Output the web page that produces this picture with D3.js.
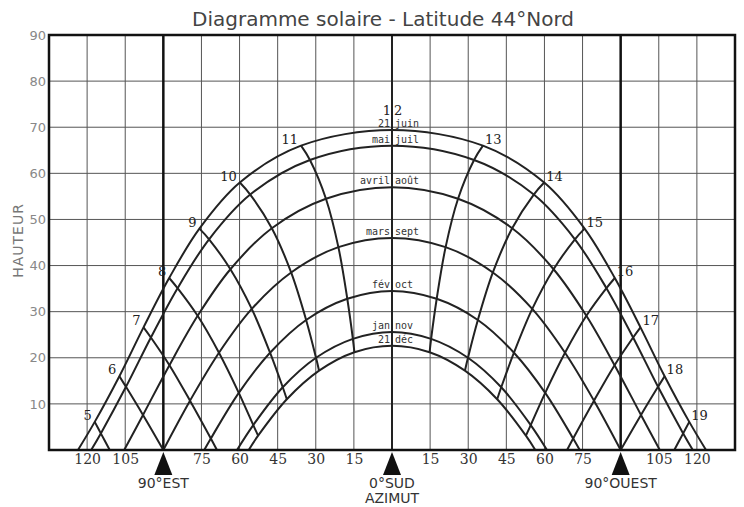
<!DOCTYPE html>
<html>
<head>
<meta charset="utf-8">
<title>Diagramme solaire</title>
<script src="https://cdn.jsdelivr.net/npm/d3@7"></script>
<style>
    body { margin: 0; background: #fff; }
    #solar-chart { width: 744px; height: 507px; }
</style>
</head>
<body>
<div id="solar-chart"></div>
<script>
// Sun positions, one list per date curve:
// [solar hour, azimuth (deg from south, east negative), height (deg)]
const juin = [
    [4.35, -123.6, 0], [5, -117, 6.1], [6, -107.3, 16], [7, -97.8, 26.6], [8, -87.7, 37.3], [9, -75.8, 48],
    [10, -59.9, 58], [11, -35.8, 66], [12, 0, 69.4], [13, 35.8, 66], [14, 59.9, 58], [15, 75.8, 48],
    [16, 87.7, 37.3], [17, 97.8, 26.6], [18, 107.3, 16], [19, 117, 6.1], [19.65, 123.6, 0]
];
const maiJuil = [
    [4.63, -118.4, 0], [5, -114.6, 3.6], [6, -104.7, 13.7], [7, -94.9, 24.4], [8, -84.4, 35.1], [9, -72, 45.7],
    [10, -55.8, 55.4], [11, -32.3, 62.9], [12, 0, 66], [13, 32.3, 62.9], [14, 55.8, 55.4], [15, 72, 45.7],
    [16, 84.4, 35.1], [17, 94.9, 24.4], [18, 104.7, 13.7], [19, 114.6, 3.6], [19.37, 118.4, 0]
];
const avrilAout = [
    [5.28, -105.4, 0], [6, -98, 7.6], [7, -87.6, 18.4], [8, -76.5, 29.1], [9, -63.6, 39.2], [10, -47.3, 48.1],
    [11, -26, 54.5], [12, 0, 57], [13, 26, 54.5], [14, 47.3, 48.1], [15, 63.6, 39.2], [16, 76.5, 29.1],
    [17, 87.6, 18.4], [18, 98, 7.6], [18.72, 105.4, 0]
];
const marsSept = [
    [6, -90, 0], [7, -79.5, 10.7], [8, -68.1, 21.1], [9, -55.2, 30.6], [10, -39.7, 38.5], [11, -21.1, 44],
    [12, 0, 46], [13, 21.1, 44], [14, 39.7, 38.5], [15, 55.2, 30.6], [16, 68.1, 21.1], [17, 79.5, 10.7],
    [18, 90, 0]
];
const fevOct = [
    [6.76, -73.9, 0], [7, -71.3, 2.5], [8, -60.3, 12.4], [9, -48, 21.1], [10, -33.8, 28.2], [11, -17.6, 32.8],
    [12, 0, 34.5], [13, 17.6, 32.8], [14, 33.8, 28.2], [15, 48, 21.1], [16, 60.3, 12.4], [17, 71.3, 2.5],
    [17.24, 73.9, 0]
];
const janNov = [
    [7.4, -61, 0], [8, -54.6, 5.4], [9, -43, 13.6], [10, -29.9, 20], [11, -15.4, 24.1], [12, 0, 25.6],
    [13, 15.4, 24.1], [14, 29.9, 20], [15, 43, 13.6], [16, 54.6, 5.4], [16.6, 61, 0]
];
const dec = [
    [7.65, -56.4, 0], [8, -52.7, 3.1], [9, -41.4, 11], [10, -28.7, 17.2], [11, -14.8, 21.2], [12, 0, 22.6],
    [13, 14.8, 21.2], [14, 28.7, 17.2], [15, 41.4, 11], [16, 52.7, 3.1], [16.35, 56.4, 0]
];

const datePaths = [juin, maiJuil, avrilAout, marsSept, fevOct, janNov, dec];
const dateLabels = [["21", "juin"], ["mai", "juil"], ["avril", "août"], ["mars", "sept"], ["fév", "oct"], ["jan", "nov"], ["21", "déc"]];

// hour lines and where the clipped ones meet the horizon [hour, azimuth]
const hours = [5, 6, 7, 8, 9, 10, 11, 12, 13, 14, 15, 16, 17, 18, 19];
const horizonHours = [[5, -111.1], [7, -68.9], [17, 68.9], [19, 111.1]];

// axes
const gridAzimuths = [-135, -120, -105, -90, -75, -60, -45, -30, -15, 0, 15, 30, 45, 60, 75, 90, 105, 120, 135];
const azimuthTicks = [-120, -105, -75, -60, -45, -30, -15, 15, 30, 45, 60, 75, 105, 120];
const heightTicks = [10, 20, 30, 40, 50, 60, 70, 80, 90];
const compassPoints = [[-90, "90°EST"], [0, "0°SUD"], [90, "90°OUEST"]];


class SolarDiagramVis {

    constructor(parentElement) {
        this.parentElement = parentElement;
        this.initVis();
    }

    initVis() {
        let vis = this;

        vis.margin = { top: 35, right: 9, bottom: 57, left: 49 };
        vis.width = 744 - vis.margin.left - vis.margin.right;
        vis.height = 507 - vis.margin.top - vis.margin.bottom;

        vis.svg = d3.select("#" + vis.parentElement)
            .append("svg")
            .attr("width", 744)
            .attr("height", 507);

        vis.g = vis.svg.append("g")
            .attr("transform", `translate(${vis.margin.left}, ${vis.margin.top})`);

        vis.x = d3.scaleLinear().domain([-135, 135]).range([0, vis.width]);
        vis.y = d3.scaleLinear().domain([0, 90]).range([vis.height, 0]);

        vis.line = d3.line()
            .x(d => vis.x(d[1]))
            .y(d => vis.y(d[2]))
            .curve(d3.curveCatmullRom.alpha(0.5));

        // Title
        vis.svg.append("text")
            .attr("x", 383)
            .attr("y", 26)
            .attr("text-anchor", "middle")
            .attr("font-family", "DejaVu Sans")
            .attr("font-size", 20)
            .attr("fill", "#444")
            .text("Diagramme solaire - Latitude 44°Nord");

        // Grid
        vis.g.append("g")
            .attr("class", "grid-h")
            .selectAll("line")
            .data(heightTicks)
            .join("line")
            .attr("x1", 0)
            .attr("x2", vis.width)
            .attr("y1", d => vis.y(d))
            .attr("y2", d => vis.y(d))
            .attr("stroke", "#555")
            .attr("stroke-width", 1);

        vis.g.append("g")
            .attr("class", "grid-v")
            .selectAll("line")
            .data(gridAzimuths)
            .join("line")
            .attr("x1", d => vis.x(d))
            .attr("x2", d => vis.x(d))
            .attr("y1", 0)
            .attr("y2", vis.height)
            .attr("stroke", d => Math.abs(d) === 90 ? "#111" : d === 0 ? "#222" : "#555")
            .attr("stroke-width", d => Math.abs(d) === 90 ? 2.5 : d === 0 ? 2 : 1);

        vis.curves = vis.g.append("g").attr("class", "curves");
        vis.labels = vis.g.append("g").attr("class", "labels");

        // Frame
        vis.g.append("rect")
            .attr("width", vis.width)
            .attr("height", vis.height)
            .attr("fill", "none")
            .attr("stroke", "#111")
            .attr("stroke-width", 2.5);

        // Axes
        vis.xAxis = d3.axisBottom(vis.x)
            .tickValues(azimuthTicks)
            .tickSize(0)
            .tickPadding(4)
            .tickFormat(d => Math.abs(d));

        vis.g.append("g")
            .attr("class", "x-axis")
            .attr("transform", `translate(0, ${vis.height})`)
            .call(vis.xAxis)
            .call(g => g.select(".domain").remove())
            .selectAll("text")
            .attr("font-family", "DejaVu Serif")
            .attr("font-size", 14)
            .attr("fill", "#333");

        vis.yAxis = d3.axisLeft(vis.y)
            .tickValues(heightTicks)
            .tickSize(0)
            .tickPadding(3);

        vis.g.append("g")
            .attr("class", "y-axis")
            .call(vis.yAxis)
            .call(g => g.select(".domain").remove())
            .selectAll("text")
            .attr("font-family", "DejaVu Sans")
            .attr("font-size", 13)
            .attr("fill", "#888");

        vis.svg.append("text")
            .attr("transform", `translate(18, ${vis.margin.top + vis.height / 2 - 2}) rotate(-90)`)
            .attr("text-anchor", "middle")
            .attr("dy", "0.35em")
            .attr("font-family", "DejaVu Sans")
            .attr("font-size", 14)
            .attr("letter-spacing", 1)
            .attr("fill", "#777")
            .text("HAUTEUR");

        // compass markers under the axis
        let compass = vis.g.append("g")
            .attr("class", "compass")
            .attr("transform", `translate(0, ${vis.height})`);

        compass.selectAll("path")
            .data(compassPoints)
            .join("path")
            .attr("d", d => `M${vis.x(d[0])},2 L${vis.x(d[0]) - 9},25 L${vis.x(d[0]) + 9},25 Z`)
            .attr("fill", "#111");

        compass.selectAll("text")
            .data(compassPoints)
            .join("text")
            .attr("x", d => vis.x(d[0]))
            .attr("y", 38)
            .attr("text-anchor", "middle")
            .attr("font-family", "DejaVu Sans")
            .attr("font-size", 14)
            .attr("fill", "#333")
            .text(d => d[1]);

        compass.append("text")
            .attr("x", vis.x(0))
            .attr("y", 53)
            .attr("text-anchor", "middle")
            .attr("font-family", "DejaVu Sans")
            .attr("font-size", 14)
            .attr("fill", "#333")
            .text("AZIMUT");

        this.wrangleData();
    }

    wrangleData() {
        let vis = this;

        // collect the same hour from every date curve, ending on the horizon if the sun sets first
        vis.hourLines = hours.map(h => {
            let pts = datePaths.map(path => path.find(p => p[0] === h)).filter(p => p);
            horizonHours.filter(p => p[0] === h).forEach(p => pts.push([h, p[1], 0]));
            return { hour: h, points: pts };
        });

        vis.noonPoints = datePaths.map((path, i) => ({
            point: path.find(p => p[0] === 12),
            label: dateLabels[i]
        }));

        this.updateVis();
    }

    updateVis() {
        let vis = this;

        vis.curves.selectAll("path.day")
            .data(datePaths)
            .join("path")
            .attr("class", "day")
            .attr("d", vis.line)
            .attr("fill", "none")
            .attr("stroke", "#222")
            .attr("stroke-width", 2);

        vis.curves.selectAll("path.hour")
            .data(vis.hourLines)
            .join("path")
            .attr("class", "hour")
            .attr("d", d => vis.line(d.points))
            .attr("fill", "none")
            .attr("stroke", "#222")
            .attr("stroke-width", 2);

        // hour numbers at the 21 June end of each hour line
        vis.labels.selectAll("text.hour")
            .data(vis.hourLines.filter(d => d.hour !== 12))
            .join("text")
            .attr("class", "hour")
            .attr("x", d => vis.x(d.points[0][1]) + (d.hour < 12 ? -3 : 2))
            .attr("y", d => vis.y(d.points[0][2]) - 2)
            .attr("text-anchor", d => d.hour < 12 ? "end" : "start")
            .attr("font-family", "DejaVu Serif")
            .attr("font-size", 13)
            .attr("fill", "#222")
            .text(d => d.hour);

        let noon = vis.hourLines.find(d => d.hour === 12).points[0];
        vis.labels.selectAll("text.noon")
            .data(["1", "2"])
            .join("text")
            .attr("class", "noon")
            .attr("x", (d, i) => vis.x(noon[1]) + (i === 0 ? -1 : 2))
            .attr("y", vis.y(noon[2]) - 15)
            .attr("text-anchor", (d, i) => i === 0 ? "end" : "start")
            .attr("font-family", "DejaVu Serif")
            .attr("font-size", 13)
            .attr("fill", "#222")
            .text(d => d);

        // date names split either side of the south line
        let dates = vis.labels.selectAll("g.date")
            .data(vis.noonPoints)
            .join("g")
            .attr("class", "date")
            .attr("transform", d => `translate(${vis.x(d.point[1])}, ${vis.y(d.point[2]) - 3})`);

        dates.selectAll("text")
            .data(d => d.label)
            .join("text")
            .attr("x", (d, i) => i === 0 ? -2 : 3)
            .attr("text-anchor", (d, i) => i === 0 ? "end" : "start")
            .attr("font-family", "DejaVu Sans Mono")
            .attr("font-size", 10)
            .attr("fill", "#333")
            .text(d => d);
    }
}

new SolarDiagramVis("solar-chart");
</script>
</body>
</html>
